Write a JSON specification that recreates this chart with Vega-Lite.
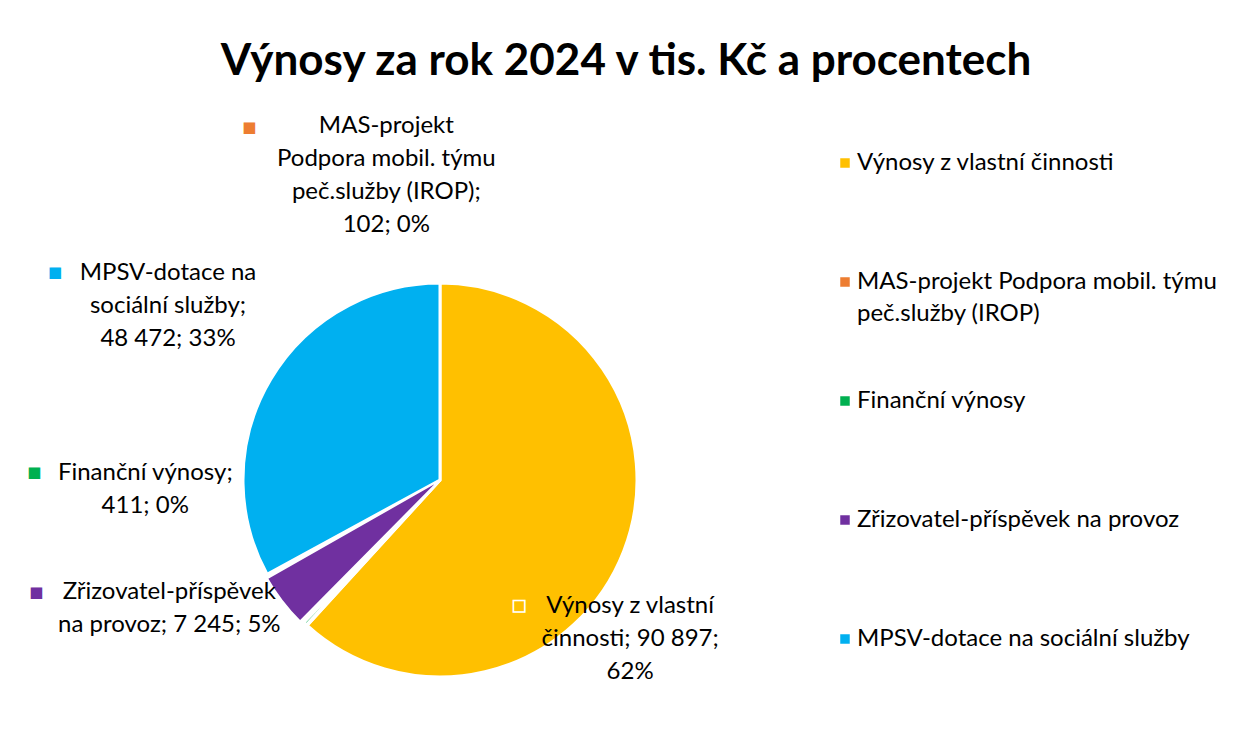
{
  "$schema": "https://vega.github.io/schema/vega-lite/v6.json",
  "width": 800,
  "height": 400,
  "autosize": {"type": "none"},
  "padding": {"left": 40, "top": 280, "right": 394, "bottom": 51},
  "background": "white",
  "config": {"view": {"stroke": null}, "font": "Lato"},
  "title": {
    "text": "Výnosy za rok 2024 v tis. Kč a procentech",
    "font": "Lato",
    "fontSize": 44,
    "fontWeight": "bold",
    "color": "#000000",
    "anchor": "middle",
    "frame": "group",
    "dx": 186,
    "offset": -5,
    "baseline": "alphabetic"
  },
  "data": {
    "values": [
      {"kategorie": "Výnosy z vlastní činnosti", "hodnota": 90897, "poradi": 1, "popisek": "Výnosy z vlastní\nčinnosti; 90 897;\n62%"},
      {"kategorie": "MAS-projekt Podpora mobil. týmu peč.služby (IROP)", "hodnota": 102, "poradi": 2, "popisek": "MAS-projekt\nPodpora mobil. týmu\npeč.služby (IROP);\n102; 0%"},
      {"kategorie": "Finanční výnosy", "hodnota": 411, "poradi": 3, "popisek": "Finanční výnosy;\n411; 0%"},
      {"kategorie": "Zřizovatel-příspěvek na provoz", "hodnota": 7245, "poradi": 4, "popisek": "Zřizovatel-příspěvek\nna provoz; 7 245; 5%"},
      {"kategorie": "MPSV-dotace na sociální služby", "hodnota": 48472, "poradi": 5, "popisek": "MPSV-dotace na\nsociální služby;\n48 472; 33%"}
    ]
  },
  "transform": [
    {"stack": "hodnota", "groupby": [], "sort": [{"field": "poradi", "order": "ascending"}], "as": ["t0", "t1"]}
  ],
  "encoding": {
    "color": {
      "field": "kategorie",
      "type": "nominal",
      "scale": {
        "domain": ["Výnosy z vlastní činnosti", "MAS-projekt Podpora mobil. týmu peč.služby (IROP)", "Finanční výnosy", "Zřizovatel-příspěvek na provoz", "MPSV-dotace na sociální služby"],
        "range": ["#FFC000", "#ED7D31", "#00B050", "#7030A0", "#00B0F0"]
      },
      "legend": {
        "orient": "none",
        "direction": "vertical",
        "legendX": 793,
        "legendY": -129,
        "title": null,
        "padding": 0,
        "symbolType": "square",
        "symbolSize": 90,
        "symbolStrokeWidth": 0,
        "labelFont": "Lato",
        "labelFontSize": 24,
        "labelColor": "#000000",
        "labelLimit": 420,
        "labelOffset": 0,
        "rowPadding": 63,
        "clipHeight": 24,
        "labelExpr": "datum.label == 'MAS-projekt Podpora mobil. týmu peč.služby (IROP)' ? ['MAS-projekt Podpora mobil. týmu', 'peč.služby (IROP)'] : [datum.label, '']",
        "encode": {"labels": {"update": {"lineHeight": {"value": 32}}}}
      }
    }
  },
  "layer": [
    {
      "mark": {"type": "arc", "outerRadius": 197, "stroke": "white", "strokeWidth": 3},
      "encoding": {
        "theta": {"field": "t0", "type": "quantitative", "stack": null},
        "theta2": {"field": "t1"},
        "opacity": {"condition": {"test": "datum.kategorie === 'Zřizovatel-příspěvek na provoz'", "value": 0}, "value": 1}
      }
    },
    {
      "mark": {"type": "arc", "outerRadius": 199, "stroke": "white", "strokeWidth": 2, "padAngle": 0.035},
      "encoding": {
        "theta": {"field": "t0", "type": "quantitative", "stack": null},
        "theta2": {"field": "t1"},
        "opacity": {"condition": {"test": "datum.kategorie === 'Zřizovatel-příspěvek na provoz'", "value": 1}, "value": 0}
      }
    },
    {
      "transform": [{"filter": "datum.kategorie === 'Výnosy z vlastní činnosti'"}],
      "mark": {"type": "text", "radius": 240, "font": "Lato", "fontSize": 24, "lineHeight": 33, "lineBreak": "\n", "align": "center", "baseline": "middle", "dx": 352, "dy": -51},
      "encoding": {"theta": {"field": "t1", "type": "quantitative", "stack": null}, "color": {"value": "#000000"}, "text": {"field": "popisek"}}
    },
    {
      "transform": [{"filter": "datum.kategorie === 'MAS-projekt Podpora mobil. týmu peč.služby (IROP)'"}],
      "mark": {"type": "text", "radius": 240, "font": "Lato", "fontSize": 24, "lineHeight": 33, "lineBreak": "\n", "align": "center", "baseline": "middle", "dx": 109, "dy": -530},
      "encoding": {"theta": {"field": "t1", "type": "quantitative", "stack": null}, "color": {"value": "#000000"}, "text": {"field": "popisek"}}
    },
    {
      "transform": [{"filter": "datum.kategorie === 'Finanční výnosy'"}],
      "mark": {"type": "text", "radius": 240, "font": "Lato", "fontSize": 24, "lineHeight": 33, "lineBreak": "\n", "align": "center", "baseline": "middle", "dx": -129, "dy": -181},
      "encoding": {"theta": {"field": "t1", "type": "quantitative", "stack": null}, "color": {"value": "#000000"}, "text": {"field": "popisek"}}
    },
    {
      "transform": [{"filter": "datum.kategorie === 'Zřizovatel-příspěvek na provoz'"}],
      "mark": {"type": "text", "radius": 240, "font": "Lato", "fontSize": 24, "lineHeight": 33, "lineBreak": "\n", "align": "center", "baseline": "middle", "dx": -60, "dy": -3},
      "encoding": {"theta": {"field": "t1", "type": "quantitative", "stack": null}, "color": {"value": "#000000"}, "text": {"field": "popisek"}}
    },
    {
      "transform": [{"filter": "datum.kategorie === 'MPSV-dotace na sociální služby'"}],
      "mark": {"type": "text", "radius": 240, "font": "Lato", "fontSize": 24, "lineHeight": 33, "lineBreak": "\n", "align": "center", "baseline": "middle", "dx": -272, "dy": 33},
      "encoding": {"theta": {"field": "t1", "type": "quantitative", "stack": null}, "color": {"value": "#000000"}, "text": {"field": "popisek"}}
    },
    {
      "transform": [{"filter": "datum.kategorie === 'Výnosy z vlastní činnosti'"}],
      "mark": {"type": "text", "radius": 240, "font": "DejaVu Sans", "fontSize": 15, "align": "center", "baseline": "middle", "dx": 241, "dy": -52, "stroke": "white", "strokeWidth": 1.5, "text": "■"},
      "encoding": {"theta": {"field": "t1", "type": "quantitative", "stack": null}}
    },
    {
      "transform": [{"filter": "datum.kategorie === 'MAS-projekt Podpora mobil. týmu peč.služby (IROP)'"}],
      "mark": {"type": "text", "radius": 240, "font": "DejaVu Sans", "fontSize": 15, "align": "center", "baseline": "middle", "dx": -28, "dy": -529, "text": "■"},
      "encoding": {"theta": {"field": "t1", "type": "quantitative", "stack": null}}
    },
    {
      "transform": [{"filter": "datum.kategorie === 'Finanční výnosy'"}],
      "mark": {"type": "text", "radius": 240, "font": "DejaVu Sans", "fontSize": 15, "align": "center", "baseline": "middle", "dx": -240, "dy": -182, "text": "■"},
      "encoding": {"theta": {"field": "t1", "type": "quantitative", "stack": null}}
    },
    {
      "transform": [{"filter": "datum.kategorie === 'Zřizovatel-příspěvek na provoz'"}],
      "mark": {"type": "text", "radius": 240, "font": "DejaVu Sans", "fontSize": 15, "align": "center", "baseline": "middle", "dx": -193, "dy": -3, "text": "■"},
      "encoding": {"theta": {"field": "t1", "type": "quantitative", "stack": null}}
    },
    {
      "transform": [{"filter": "datum.kategorie === 'MPSV-dotace na sociální služby'"}],
      "mark": {"type": "text", "radius": 240, "font": "DejaVu Sans", "fontSize": 15, "align": "center", "baseline": "middle", "dx": -385, "dy": 32, "text": "■"},
      "encoding": {"theta": {"field": "t1", "type": "quantitative", "stack": null}}
    }
  ]
}
